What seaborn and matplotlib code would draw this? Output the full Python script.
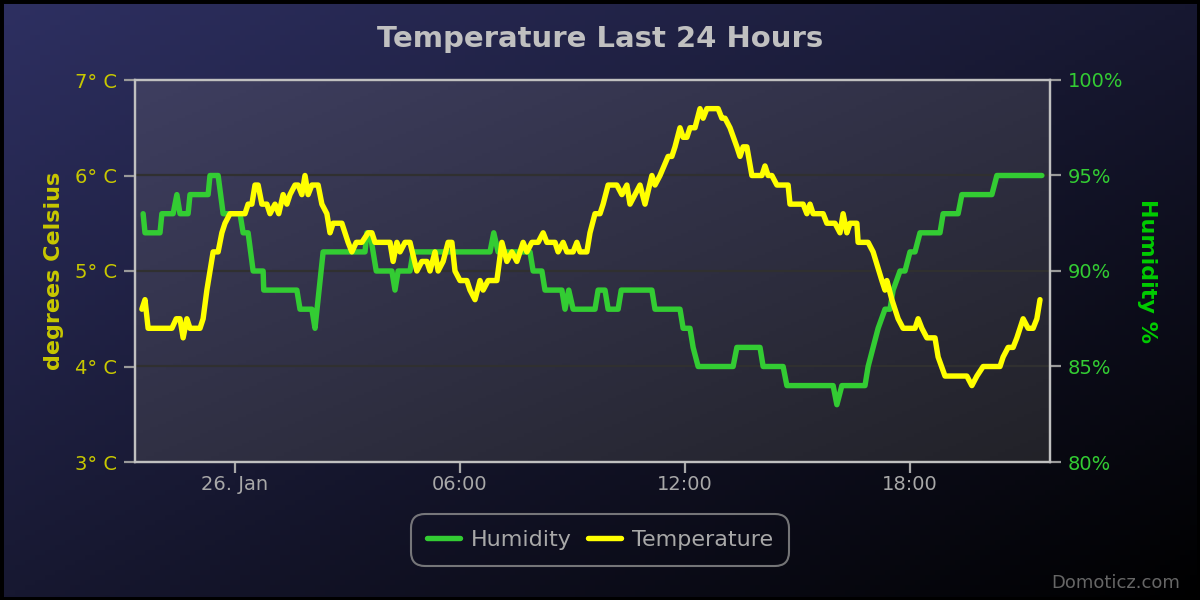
import numpy as np
import pandas as pd
import matplotlib
matplotlib.use("Agg")
import matplotlib.pyplot as plt
import matplotlib.dates as mdates
from matplotlib.patches import Rectangle
from matplotlib.ticker import FixedLocator
import seaborn as sns

# ---------------- data ----------------
hum_times = [
    "2021-01-25 21:33", "2021-01-25 21:36", "2021-01-25 22:00", "2021-01-25 22:03", "2021-01-25 22:21",
    "2021-01-25 22:27", "2021-01-25 22:32", "2021-01-25 22:45", "2021-01-25 22:48", "2021-01-25 23:17",
    "2021-01-25 23:20", "2021-01-25 23:33", "2021-01-25 23:41", "2021-01-26 00:08", "2021-01-26 00:13",
    "2021-01-26 00:21", "2021-01-26 00:29", "2021-01-26 00:45", "2021-01-26 00:46", "2021-01-26 01:39",
    "2021-01-26 01:44", "2021-01-26 02:03", "2021-01-26 02:08", "2021-01-26 02:21", "2021-01-26 03:28",
    "2021-01-26 03:31", "2021-01-26 03:36", "2021-01-26 03:41", "2021-01-26 03:46", "2021-01-26 04:11",
    "2021-01-26 04:16", "2021-01-26 04:21", "2021-01-26 04:40", "2021-01-26 04:45", "2021-01-26 06:48",
    "2021-01-26 06:54", "2021-01-26 07:01", "2021-01-26 07:52", "2021-01-26 07:57", "2021-01-26 08:11",
    "2021-01-26 08:16", "2021-01-26 08:43", "2021-01-26 08:48", "2021-01-26 08:54", "2021-01-26 09:01",
    "2021-01-26 09:36", "2021-01-26 09:41", "2021-01-26 09:52", "2021-01-26 09:57", "2021-01-26 10:13",
    "2021-01-26 10:18", "2021-01-26 11:07", "2021-01-26 11:12", "2021-01-26 11:52", "2021-01-26 11:57",
    "2021-01-26 12:08", "2021-01-26 12:13", "2021-01-26 12:21", "2021-01-26 13:17", "2021-01-26 13:23",
    "2021-01-26 14:00", "2021-01-26 14:05", "2021-01-26 14:37", "2021-01-26 14:43", "2021-01-26 15:57",
    "2021-01-26 16:03", "2021-01-26 16:11", "2021-01-26 16:48", "2021-01-26 16:53", "2021-01-26 17:01",
    "2021-01-26 17:09", "2021-01-26 17:20", "2021-01-26 17:28", "2021-01-26 17:33", "2021-01-26 17:44",
    "2021-01-26 17:52", "2021-01-26 18:00", "2021-01-26 18:08", "2021-01-26 18:16", "2021-01-26 18:48",
    "2021-01-26 18:53", "2021-01-26 19:17", "2021-01-26 19:23", "2021-01-26 20:11", "2021-01-26 20:19",
    "2021-01-26 21:31",
]
hum_values = [
    93, 92, 92, 93, 93,
    94, 93, 93, 94, 94,
    95, 95, 93, 93, 92,
    92, 90, 90, 89, 89,
    88, 88, 87, 91, 91,
    92, 92, 91, 90, 90,
    89, 90, 90, 91, 91,
    92, 91, 91, 90, 90,
    89, 89, 88, 89, 88,
    88, 89, 89, 88, 88,
    89, 89, 88, 88, 87,
    87, 86, 85, 85, 86,
    86, 85, 85, 84, 84,
    83, 84, 84, 85, 86,
    87, 88, 88, 89, 90,
    90, 91, 91, 92, 92,
    93, 93, 94, 94, 95,
    95,
]

temp_times = [
    "2021-01-25 21:31", "2021-01-25 21:36", "2021-01-25 21:41", "2021-01-25 22:19", "2021-01-25 22:26",
    "2021-01-25 22:32", "2021-01-25 22:37", "2021-01-25 22:43", "2021-01-25 22:48", "2021-01-25 23:04",
    "2021-01-25 23:09", "2021-01-25 23:15", "2021-01-25 23:20", "2021-01-25 23:25", "2021-01-25 23:33",
    "2021-01-25 23:39", "2021-01-25 23:44", "2021-01-25 23:52", "2021-01-26 00:16", "2021-01-26 00:21",
    "2021-01-26 00:27", "2021-01-26 00:32", "2021-01-26 00:37", "2021-01-26 00:43", "2021-01-26 00:51",
    "2021-01-26 00:56", "2021-01-26 01:04", "2021-01-26 01:10", "2021-01-26 01:17", "2021-01-26 01:23",
    "2021-01-26 01:28", "2021-01-26 01:36", "2021-01-26 01:41", "2021-01-26 01:47", "2021-01-26 01:52",
    "2021-01-26 01:57", "2021-01-26 02:03", "2021-01-26 02:13", "2021-01-26 02:19", "2021-01-26 02:27",
    "2021-01-26 02:32", "2021-01-26 02:37", "2021-01-26 02:51", "2021-01-26 03:01", "2021-01-26 03:07",
    "2021-01-26 03:14", "2021-01-26 03:23", "2021-01-26 03:33", "2021-01-26 03:39", "2021-01-26 03:44",
    "2021-01-26 04:08", "2021-01-26 04:13", "2021-01-26 04:19", "2021-01-26 04:24", "2021-01-26 04:32",
    "2021-01-26 04:40", "2021-01-26 04:51", "2021-01-26 04:59", "2021-01-26 05:07", "2021-01-26 05:12",
    "2021-01-26 05:20", "2021-01-26 05:25", "2021-01-26 05:33", "2021-01-26 05:41", "2021-01-26 05:47",
    "2021-01-26 05:52", "2021-01-26 06:00", "2021-01-26 06:11", "2021-01-26 06:16", "2021-01-26 06:24",
    "2021-01-26 06:32", "2021-01-26 06:37", "2021-01-26 06:45", "2021-01-26 06:59", "2021-01-26 07:07",
    "2021-01-26 07:15", "2021-01-26 07:23", "2021-01-26 07:31", "2021-01-26 07:41", "2021-01-26 07:47",
    "2021-01-26 07:55", "2021-01-26 08:05", "2021-01-26 08:13", "2021-01-26 08:19", "2021-01-26 08:32",
    "2021-01-26 08:37", "2021-01-26 08:45", "2021-01-26 08:51", "2021-01-26 09:01", "2021-01-26 09:07",
    "2021-01-26 09:12", "2021-01-26 09:23", "2021-01-26 09:28", "2021-01-26 09:36", "2021-01-26 09:44",
    "2021-01-26 09:49", "2021-01-26 09:57", "2021-01-26 10:11", "2021-01-26 10:19", "2021-01-26 10:27",
    "2021-01-26 10:32", "2021-01-26 10:40", "2021-01-26 10:48", "2021-01-26 10:56", "2021-01-26 11:07",
    "2021-01-26 11:12", "2021-01-26 11:20", "2021-01-26 11:33", "2021-01-26 11:39", "2021-01-26 11:44",
    "2021-01-26 11:52", "2021-01-26 11:57", "2021-01-26 12:03", "2021-01-26 12:08", "2021-01-26 12:16",
    "2021-01-26 12:24", "2021-01-26 12:29", "2021-01-26 12:35", "2021-01-26 12:53", "2021-01-26 12:59",
    "2021-01-26 13:04", "2021-01-26 13:12", "2021-01-26 13:23", "2021-01-26 13:28", "2021-01-26 13:33",
    "2021-01-26 13:39", "2021-01-26 13:47", "2021-01-26 14:03", "2021-01-26 14:08", "2021-01-26 14:13",
    "2021-01-26 14:19", "2021-01-26 14:27", "2021-01-26 14:45", "2021-01-26 14:48", "2021-01-26 15:09",
    "2021-01-26 15:15", "2021-01-26 15:20", "2021-01-26 15:25", "2021-01-26 15:41", "2021-01-26 15:47",
    "2021-01-26 16:00", "2021-01-26 16:08", "2021-01-26 16:13", "2021-01-26 16:19", "2021-01-26 16:24",
    "2021-01-26 16:35", "2021-01-26 16:37", "2021-01-26 16:53", "2021-01-26 17:01", "2021-01-26 17:15",
    "2021-01-26 17:20", "2021-01-26 17:23", "2021-01-26 17:31", "2021-01-26 17:41", "2021-01-26 17:49",
    "2021-01-26 18:08", "2021-01-26 18:13", "2021-01-26 18:19", "2021-01-26 18:27", "2021-01-26 18:40",
    "2021-01-26 18:45", "2021-01-26 18:56", "2021-01-26 19:31", "2021-01-26 19:39", "2021-01-26 19:47",
    "2021-01-26 19:57", "2021-01-26 20:24", "2021-01-26 20:29", "2021-01-26 20:37", "2021-01-26 20:45",
    "2021-01-26 20:51", "2021-01-26 21:01", "2021-01-26 21:09", "2021-01-26 21:17", "2021-01-26 21:23",
    "2021-01-26 21:28",
]
temp_values = [
    4.6, 4.7, 4.4, 4.4, 4.5,
    4.5, 4.3, 4.5, 4.4, 4.4,
    4.5, 4.8, 5.0, 5.2, 5.2,
    5.4, 5.5, 5.6, 5.6, 5.7,
    5.7, 5.9, 5.9, 5.7, 5.7,
    5.6, 5.7, 5.6, 5.8, 5.7,
    5.8, 5.9, 5.9, 5.8, 6.0,
    5.8, 5.9, 5.9, 5.7, 5.6,
    5.4, 5.5, 5.5, 5.3, 5.2,
    5.3, 5.3, 5.4, 5.4, 5.3,
    5.3, 5.1, 5.3, 5.2, 5.3,
    5.3, 5.0, 5.1, 5.1, 5.0,
    5.2, 5.0, 5.1, 5.3, 5.3,
    5.0, 4.9, 4.9, 4.8, 4.7,
    4.9, 4.8, 4.9, 4.9, 5.3,
    5.1, 5.2, 5.1, 5.3, 5.2,
    5.3, 5.3, 5.4, 5.3, 5.3,
    5.2, 5.3, 5.2, 5.2, 5.3,
    5.2, 5.2, 5.4, 5.6, 5.6,
    5.7, 5.9, 5.9, 5.8, 5.9,
    5.7, 5.8, 5.9, 5.7, 6.0,
    5.9, 6.0, 6.2, 6.2, 6.3,
    6.5, 6.4, 6.4, 6.5, 6.5,
    6.7, 6.6, 6.7, 6.7, 6.6,
    6.6, 6.5, 6.3, 6.2, 6.3,
    6.3, 6.0, 6.0, 6.1, 6.0,
    6.0, 5.9, 5.9, 5.7, 5.7,
    5.6, 5.7, 5.6, 5.6, 5.5,
    5.5, 5.4, 5.6, 5.4, 5.5,
    5.5, 5.3, 5.3, 5.2, 4.9,
    4.8, 4.9, 4.7, 4.5, 4.4,
    4.4, 4.5, 4.4, 4.3, 4.3,
    4.1, 3.9, 3.9, 3.8, 3.9,
    4.0, 4.0, 4.1, 4.2, 4.2,
    4.3, 4.5, 4.4, 4.4, 4.5,
    4.7,
]

x_start = "2021-01-25 21:20"
x_end = "2021-01-26 21:44"
x_tick_times = ["2021-01-26 00:00", "2021-01-26 06:00", "2021-01-26 12:00", "2021-01-26 18:00"]
x_tick_labels = ["26. Jan", "06:00", "12:00", "18:00"]
temp_ticks = [3, 4, 5, 6, 7]
temp_tick_labels = ["3° C", "4° C", "5° C", "6° C", "7° C"]
hum_ticks = [80, 85, 90, 95, 100]
hum_tick_labels = ["80%", "85%", "90%", "95%", "100%"]

title = "Temperature Last 24 Hours"
series_names = ["Humidity", "Temperature"]

# ---------------- styling ----------------
sns.set_style("dark")
plt.rcParams["font.family"] = ["DejaVu Sans"]

HUM_COLOR = "#33cc33"
TEMP_COLOR = "#ffff00"

hum_df = pd.DataFrame({"time": pd.to_datetime(hum_times), "value": hum_values})
temp_df = pd.DataFrame({"time": pd.to_datetime(temp_times), "value": temp_values})

fig = plt.figure(figsize=(12, 6), dpi=100)

# figure background gradient
bg = fig.add_axes([0, 0, 1, 1], zorder=-10)
bg.set_axis_off()
nx, ny = 240, 120
gx, gy = np.meshgrid(np.linspace(0, 1, nx), np.linspace(0, 1, ny))
t = (gx + gy) / 2.0
c0 = np.array([46, 48, 98]) / 255.0
c1 = np.array([0, 0, 0]) / 255.0
grad = c0[None, None, :] * (1 - t[..., None]) + c1[None, None, :] * t[..., None]
bg.imshow(grad, extent=[0, 1, 0, 1], aspect="auto", origin="upper")
bg.set_xlim(0, 1)
bg.set_ylim(0, 1)
fig.patches.append(Rectangle((0, 0), 1, 1, transform=fig.transFigure, fill=False,
                             edgecolor="black", linewidth=5, zorder=10))

left, right, bottom, top = 135 / 1200, 1050 / 1200, 1 - 462 / 600, 1 - 80 / 600
ax = fig.add_axes([left, bottom, right - left, top - bottom])
ax2 = ax.twinx()
ax.set_zorder(2)
ax2.set_zorder(1)
ax.patch.set_visible(False)
ax2.patch.set_visible(False)

# plot-area gradient (drawn on the lower axes)
p0 = np.array([62, 62, 96]) / 255.0
p1 = np.array([34, 34, 40]) / 255.0
pgrad = p0[None, None, :] * (1 - t[..., None]) + p1[None, None, :] * t[..., None]
ax2.imshow(pgrad, extent=[0, 1, 0, 1], aspect="auto", origin="upper",
           transform=ax2.transAxes, zorder=-5)

sns.lineplot(data=hum_df, x="time", y="value", ax=ax2, color=HUM_COLOR,
             linewidth=3.9, label=series_names[0], legend=False)
sns.lineplot(data=temp_df, x="time", y="value", ax=ax, color=TEMP_COLOR,
             linewidth=3.9, label=series_names[1], legend=False)

xmin, xmax = pd.Timestamp(x_start), pd.Timestamp(x_end)
ax.set_xlim(xmin, xmax)
ax2.set_xlim(xmin, xmax)
ax.set_ylim(3, 7)
ax2.set_ylim(80, 100)

xt = mdates.date2num(pd.to_datetime(x_tick_times))
ax.xaxis.set_major_locator(FixedLocator(xt))
ax.set_xticklabels(x_tick_labels)
ax.set_yticks(temp_ticks)
ax.set_yticklabels(temp_tick_labels)
ax2.set_yticks(hum_ticks)
ax2.set_yticklabels(hum_tick_labels)

# grid on lower axes
ax.grid(False)
ax2.grid(False)
ax2.xaxis.set_major_locator(FixedLocator(xt))
ax2.grid(True, axis="both", color="#303030", linewidth=1.6)
ax2.set_axisbelow(True)

ax.tick_params(axis="x", colors="#a8a8a8", labelsize=14, length=8, width=1.6,
               direction="out", pad=1, bottom=True)
ax.tick_params(axis="y", colors="#9a9a9a", labelcolor="#c8c800", labelsize=14,
               length=8, width=1.6, direction="out", pad=5, left=True)
ax2.tick_params(axis="y", colors="#9a9a9a", labelcolor="#33cc33", labelsize=14,
                length=8, width=1.6, direction="out", pad=5, right=True)
ax2.tick_params(axis="x", bottom=False, labelbottom=False)

for a in (ax, ax2):
    for s in a.spines.values():
        s.set_visible(True)
        s.set_color("#c0c0c0")
        s.set_linewidth(1.6)

ax.set_xlabel("")
ax.set_ylabel("degrees Celsius", color="#c8c800", fontsize=16, fontweight="bold", labelpad=8)
ax2.set_ylabel("Humidity %", color="#00cc00", fontsize=16, fontweight="bold",
               rotation=270, labelpad=24)

fig.text(0.5, 1 - 39 / 600, title, ha="center", va="center", color="#c0c0c0",
         fontsize=21, fontweight="bold")

h1 = ax2.get_lines()[0]
h2 = ax.get_lines()[0]
leg = fig.legend([h1, h2], series_names, loc="center", bbox_to_anchor=(0.5, 1 - 540 / 600),
                 ncol=2, frameon=True, fontsize=16, handlelength=1.5, columnspacing=0.7,
                 borderpad=0.5, handletextpad=0.5)
leg.get_frame().set_facecolor("none")
leg.get_frame().set_edgecolor("#909090")
leg.get_frame().set_linewidth(1.5)
leg.get_frame().set_boxstyle("round,pad=0.2,rounding_size=0.6")
for txt in leg.get_texts():
    txt.set_color("#a8a8a8")

fig.text(1180 / 1200, 1 - 583 / 600, "Domoticz.com", ha="right", va="center",
         color="#666666", fontsize=13)

fig.savefig("out.png", dpi=100)
